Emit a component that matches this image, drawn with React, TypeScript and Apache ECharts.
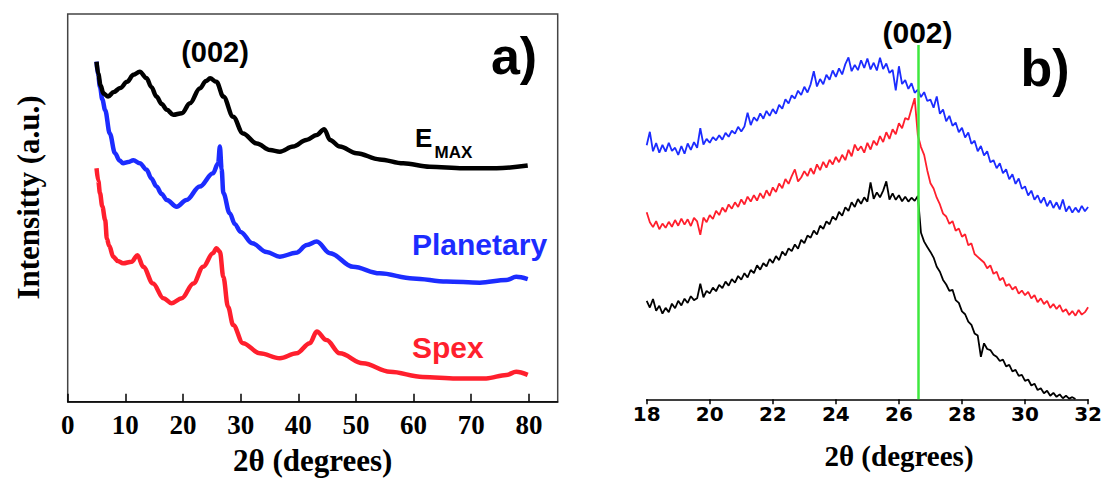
import React, { useEffect, useRef } from "react";
import * as echarts from "echarts";

// ---------- Panel a) : full XRD patterns (2θ, intensity a.u.) ----------
const A_X_MIN = 0;
const A_X_MAX = 85;
const A_X_INTERVAL = 10;

const EMAX_A: [number, number][] = [
  [5.0, 87.7], [5.3, 84.6], [5.7, 81.6], [6.2, 79.5], [7.0, 78.7], [8.0, 79.9], [9.1, 80.9],
  [10.3, 82.5], [11.4, 84.3], [12.5, 85.1], [13.7, 83.4], [14.5, 81.2], [15.4, 78.7], [16.3, 76.8],
  [17.2, 75.3], [18.3, 74.0], [19.8, 74.4], [21.2, 77.0], [22.9, 80.8], [24.0, 82.7], [24.7, 83.4],
  [25.8, 82.5], [27.0, 78.7], [28.7, 73.5], [30.4, 69.2], [32.8, 66.6], [35.1, 64.9], [36.8, 64.5],
  [39.1, 65.8], [41.4, 67.5], [43.2, 68.8], [44.5, 70.3], [45.5, 67.5], [47.2, 65.8], [50.1, 64.1],
  [54.1, 62.5], [58.2, 61.5], [62.8, 60.6], [68.6, 60.2], [74.4, 60.2], [79.8, 60.9],
];

const PLANETARY_A: [number, number][] = [
  [5.0, 87.7], [5.3, 84.0], [5.6, 81.2], [6.0, 78.0], [6.5, 75.2], [7.3, 69.2], [8.2, 64.1],
  [9.0, 62.2], [9.6, 61.5], [10.5, 61.8], [11.4, 62.3], [12.5, 61.5], [13.7, 59.8], [14.5, 57.6],
  [15.4, 55.5], [16.3, 53.6], [17.2, 52.0], [18.9, 50.3], [20.6, 52.0], [22.9, 55.5], [25.2, 58.9],
  [26.1, 61.5], [26.4, 65.8], [26.7, 60.0], [27.0, 53.8], [28.1, 48.6], [29.0, 45.8], [30.0, 43.8],
  [32.0, 40.9], [34.5, 38.6], [36.8, 37.4], [39.6, 38.4], [41.5, 40.4], [43.2, 41.3], [45.5, 38.3],
  [49.5, 34.8], [54.1, 33.1], [59.9, 31.8], [65.7, 31.0], [71.5, 30.7], [76.1, 31.4], [77.8, 32.2],
  [79.8, 31.6],
];

const SPEX_A: [number, number][] = [
  [5.0, 60.2], [5.3, 57.0], [5.6, 53.8], [6.0, 50.4], [6.5, 46.9], [6.8, 42.0], [7.2, 40.2],
  [7.9, 37.4], [8.7, 36.3], [9.6, 35.7], [11.1, 36.1], [12.1, 37.8], [13.1, 34.8], [14.8, 30.5],
  [16.6, 26.7], [18.0, 25.4], [19.8, 26.7], [21.8, 30.5], [23.5, 34.8], [25.2, 38.3], [25.8, 39.6],
  [26.4, 38.7], [27.0, 32.2], [27.8, 24.5], [28.7, 19.8], [30.4, 15.1], [33.3, 12.5], [36.8, 11.2],
  [39.7, 12.5], [42.0, 15.1], [43.2, 18.1], [44.9, 15.9], [47.2, 12.5], [51.2, 9.9], [55.9, 7.7],
  [61.6, 6.4], [67.4, 6.0], [72.6, 6.0], [76.1, 6.9], [77.8, 7.7], [79.8, 6.9],
];

// ---------- Panel b) : zoom on the (002) reflection, 18–32° ----------
const B_X_MIN = 18;
const B_X_MAX = 32;
const B_X_INTERVAL = 2;
const B_START = 18.0; // first 2θ sample
const B_STEP = 0.1; // sampling step of the readings below
const PEAK_002 = 26.6;

const PLANETARY_B: number[] = [
  71.7, 75.5, 70.0, 72.3, 69.6, 71.8, 69.9, 72.4, 70.1, 71.0,
  69.0, 71.5, 69.3, 72.2, 70.4, 72.6, 71.0, 76.5, 71.9, 73.5,
  72.4, 74.0, 73.1, 74.5, 73.3, 75.2, 74.1, 75.8, 75.0, 76.9,
  75.6, 77.0, 80.9, 77.4, 79.6, 78.6, 80.7, 79.2, 81.4, 80.0,
  81.9, 80.6, 83.1, 82.0, 84.7, 83.5, 85.8, 84.9, 87.1, 85.9,
  88.2, 86.6, 88.9, 92.6, 88.3, 90.4, 88.9, 91.6, 90.2, 92.8,
  91.0, 93.4, 91.7, 94.6, 96.5, 92.6, 94.4, 92.9, 95.7, 93.5,
  96.2, 93.1, 95.0, 92.8, 96.4, 93.2, 94.8, 92.1, 93.0, 87.2,
  94.0, 89.0, 90.1, 87.6, 89.2, 86.5, 87.4, 85.3, 86.7, 84.2,
  84.6, 82.3, 85.5, 80.6, 81.8, 78.5, 80.0, 77.2, 78.1, 75.4,
  76.6, 73.9, 75.3, 72.1, 73.0, 70.0, 71.5, 68.8, 70.0, 66.9,
  67.5, 65.2, 66.6, 63.8, 64.9, 62.1, 63.5, 60.8, 62.3, 59.4,
  60.1, 57.5, 58.9, 56.3, 57.6, 55.4, 57.0, 54.5, 56.1, 54.0,
  55.6, 53.6, 56.4, 53.0, 54.5, 52.7, 54.1, 52.8, 54.6, 53.1,
  54.3,
];

const SPEX_B: number[] = [
  52.8, 50.0, 48.6, 50.3, 48.0, 49.6, 48.4, 50.1, 48.7, 50.6,
  49.0, 51.0, 49.3, 50.8, 48.9, 51.2, 50.2, 46.4, 51.3, 50.0,
  52.0, 50.9, 53.2, 52.0, 54.1, 52.9, 55.0, 53.8, 55.6, 54.3,
  56.4, 55.0, 57.2, 55.8, 57.6, 56.1, 58.2, 56.7, 59.0, 57.4,
  59.8, 58.5, 60.9, 59.6, 62.2, 60.8, 63.0, 64.9, 61.5, 62.6,
  64.4, 63.0, 65.2, 63.6, 66.3, 64.7, 67.0, 65.4, 67.6, 66.3,
  68.4, 66.9, 69.0, 67.5, 70.4, 68.6, 71.9, 70.2, 71.4, 69.6,
  72.4, 70.5, 73.0, 71.7, 74.3, 72.6, 75.4, 73.5, 76.2, 74.8,
  77.9, 76.5, 79.4, 78.9, 82.0, 85.0, 74.5, 71.2, 69.0, 64.6,
  61.0, 59.5, 56.9, 55.0, 52.4, 51.6, 49.5, 50.3, 47.6, 48.2,
  45.9, 46.6, 43.5, 44.0, 41.0, 40.2, 39.4, 38.6, 37.0, 37.8,
  35.4, 36.0, 33.6, 34.3, 32.0, 32.5, 31.0, 31.8, 29.8, 30.7,
  29.4, 30.3, 28.5, 29.4, 27.4, 28.5, 26.9, 27.8, 25.8, 26.9,
  25.5, 26.6, 24.7, 25.4, 23.8, 24.9, 23.6, 25.2, 23.9, 24.6,
  26.0,
];

const EMAX_B: number[] = [
  27.8, 25.9, 28.3, 25.0, 26.4, 24.2, 25.8, 24.6, 27.0, 25.7,
  27.8, 26.5, 28.4, 27.2, 29.1, 28.0, 28.5, 32.6, 28.8, 30.6,
  29.9, 31.5, 30.5, 32.3, 31.4, 33.2, 32.1, 33.9, 32.9, 34.8,
  33.8, 35.6, 34.4, 36.5, 35.6, 37.8, 36.6, 38.4, 37.5, 39.6,
  38.5, 40.4, 39.3, 41.7, 40.6, 42.6, 41.8, 43.7, 42.5, 45.0,
  44.1, 46.2, 45.6, 47.6, 46.5, 49.0, 48.1, 50.2, 49.4, 51.6,
  50.6, 52.9, 51.8, 54.2, 53.2, 55.6, 54.3, 56.5, 55.2, 57.0,
  55.8, 61.2, 56.6, 58.4, 57.0, 58.9, 61.5, 56.4, 58.1, 56.3,
  57.6, 55.9, 57.2, 55.8, 56.9, 56.0, 57.4, 47.0, 44.5, 43.0,
  41.6, 40.0, 37.4, 36.0, 33.7, 32.4, 30.6, 30.9, 28.0, 27.2,
  24.8, 24.0, 21.9, 21.0, 18.6, 18.0, 12.0, 15.8, 14.2, 13.9,
  12.6, 12.0, 10.8, 11.2, 9.3, 9.7, 7.9, 8.3, 6.6, 6.9,
  5.2, 5.6, 3.9, 4.4, 2.6, 3.1, 1.7, 2.4, 1.0, 1.8,
  0.7, 1.4, 0.3, 1.0, 0.2, 0.6, 0.1,
];

const BLACK = "#000000";
const BLUE = "#1c2cff";
const RED = "#ff1f2d";
const GREEN = "#3fe83f";

const toPairs = (arr: number[]) =>
  arr.map((v, i) => [Math.round((B_START + i * B_STEP) * 10) / 10, v]);

const SERIF = "Liberation Serif";
const SANS = "Liberation Sans";

const txt = (
  text: string,
  x: number,
  y: number,
  font: string,
  fill: string,
  align: string = "center",
  rotation: number = 0
) => ({
  type: "text",
  x,
  y,
  rotation,
  z: 100,
  silent: true,
  style: {
    text,
    font,
    fill,
    align,
    verticalAlign: "middle",
    textAlign: align,
    textVerticalAlign: "middle",
  },
});

const lineA = (name: string, data: [number, number][], color: string) => ({
  name,
  type: "line",
  xAxisIndex: 0,
  yAxisIndex: 0,
  data,
  showSymbol: false,
  smooth: 0.35,
  smoothMonotone: "x",
  lineStyle: { color, width: 4.5 },
  itemStyle: { color },
});

const lineB = (name: string, data: number[], color: string, extra: any = {}) => ({
  name,
  type: "line",
  xAxisIndex: 1,
  yAxisIndex: 1,
  data: toPairs(data),
  showSymbol: false,
  clip: true,
  lineStyle: { color, width: 1.8 },
  itemStyle: { color },
  ...extra,
});

export default function App() {
  const ref = useRef<HTMLDivElement>(null);

  useEffect(() => {
    if (!ref.current) return;
    const chart = echarts.init(ref.current, null, { renderer: "svg" });

    const option: any = {
      animation: false,
      backgroundColor: "#ffffff",
      grid: [
        {
          left: 67.7,
          right: 547.3,
          top: 14,
          bottom: 77.3,
          show: true,
          borderColor: "#444",
          borderWidth: 1.5,
          backgroundColor: "transparent",
        },
        { left: 646.7, right: 15.7, top: 45, bottom: 79.7 },
      ],
      xAxis: [
        {
          gridIndex: 0,
          type: "value",
          min: A_X_MIN,
          max: A_X_MAX,
          interval: A_X_INTERVAL,
          axisLine: { show: true, onZero: false, lineStyle: { color: BLACK, width: 1.5 } },
          axisTick: { show: true, inside: true, length: 8, lineStyle: { color: BLACK, width: 1.5 } },
          axisLabel: {
            showMaxLabel: false,
            margin: 10,
            color: BLACK,
            fontFamily: SERIF,
            fontWeight: "bold",
            fontSize: 27,
          },
          splitLine: { show: false },
        },
        {
          gridIndex: 1,
          type: "value",
          min: B_X_MIN,
          max: B_X_MAX,
          interval: B_X_INTERVAL,
          axisLine: { show: true, onZero: false, lineStyle: { color: BLACK, width: 1.5 } },
          axisTick: { show: true, inside: false, length: 5, lineStyle: { color: BLACK, width: 1.5 } },
          axisLabel: {
            margin: 5,
            color: BLACK,
            fontFamily: "DejaVu Sans",
            fontWeight: "bold",
            fontSize: 20,
          },
          splitLine: { show: false },
        },
      ],
      yAxis: [
        { gridIndex: 0, type: "value", min: 0, max: 100, show: false },
        { gridIndex: 1, type: "value", min: 0, max: 100, show: false },
      ],
      series: [
        lineA("Planetary (a)", PLANETARY_A, BLUE),
        lineA("EMAX (a)", EMAX_A, BLACK),
        lineA("Spex (a)", SPEX_A, RED),
        lineB("EMAX (b)", EMAX_B, BLACK),
        lineB("Spex (b)", SPEX_B, RED),
        lineB("Planetary (b)", PLANETARY_B, BLUE, {
          markLine: {
            silent: true,
            symbol: "none",
            label: { show: false },
            lineStyle: { color: GREEN, width: 2.5, type: "solid" },
            data: [{ xAxis: PEAK_002 }],
          },
        }),
      ],
      graphic: [
        // panel a
        txt("Intensitty (a.u.)", 28.5, 197.5, `bold 31px ${SERIF}`, BLACK, "center", Math.PI / 2),
        txt("2θ (degrees)", 312.7, 460, `bold 31px ${SERIF}`, BLACK),
        txt("(002)", 215, 51.5, `bold 29px ${SANS}`, BLACK),
        txt("a)", 514, 55.5, `bold 52px ${SANS}`, BLACK),
        txt("E", 415, 137.5, `bold 26px ${SANS}`, BLACK, "left"),
        txt("MAX", 434.5, 152.5, `bold 17px ${SANS}`, BLACK, "left"),
        txt("Planetary", 412, 244, `bold 30px ${SANS}`, BLUE, "left"),
        txt("Spex", 412, 347, `bold 30px ${SANS}`, RED, "left"),
        // panel b
        txt("(002)", 917.5, 32, `bold 30px ${SANS}`, BLACK),
        txt("b)", 1045, 68, `bold 52px ${SANS}`, BLACK),
        txt("2θ (degrees)", 899, 455.5, `bold 29px ${SERIF}`, BLACK),
      ],
    };

    chart.setOption(option);
    return () => chart.dispose();
  }, []);

  return (
    <div
      ref={ref}
      style={{ position: "fixed", left: 0, top: 0, width: 1105, height: 479, background: "#fff" }}
    />
  );
}
